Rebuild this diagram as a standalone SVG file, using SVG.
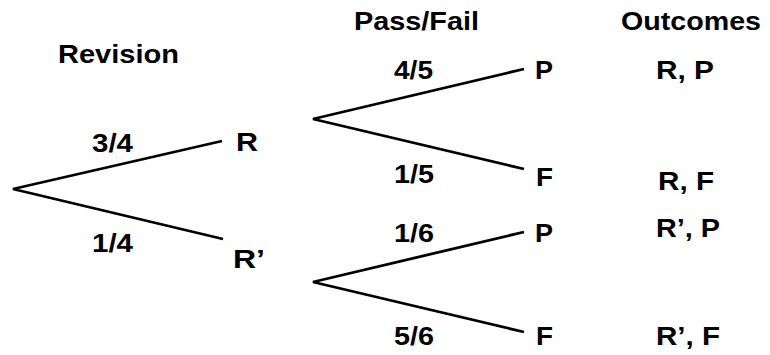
<svg xmlns="http://www.w3.org/2000/svg" width="770" height="355" viewBox="0 0 770 355">
  <style>
    text { font-family: "Liberation Sans", Arial, Helvetica, sans-serif; font-weight: bold; font-size: 25px; fill: #000; }
    .edge { stroke: #000; stroke-width: 2.8; fill: none; stroke-linecap: butt; stroke-linejoin: miter; }
  </style>
  <rect width="770" height="355" fill="#ffffff"/>
  <g id="headers">
    <text x="58" y="63" textLength="121" lengthAdjust="spacingAndGlyphs">Revision</text>
    <text x="354" y="30" textLength="125" lengthAdjust="spacingAndGlyphs">Pass/Fail</text>
    <text x="621" y="30" textLength="140" lengthAdjust="spacingAndGlyphs">Outcomes</text>
  </g>
  <g id="connectors">
    <polyline class="edge" points="222,141 13,189 223,239"/>
    <polyline class="edge" points="524,69 313,119 524,169"/>
    <polyline class="edge" points="524,232 313,282 524,332"/>
    <g id="edge-labels">
      <text x="92" y="152" textLength="41" lengthAdjust="spacingAndGlyphs">3/4</text>
      <text x="92" y="252" textLength="41" lengthAdjust="spacingAndGlyphs">1/4</text>
      <text x="394" y="79" textLength="39" lengthAdjust="spacingAndGlyphs">4/5</text>
      <text x="394" y="183" textLength="40" lengthAdjust="spacingAndGlyphs">1/5</text>
      <text x="394" y="242" textLength="40" lengthAdjust="spacingAndGlyphs">1/6</text>
      <text x="394" y="345" textLength="40" lengthAdjust="spacingAndGlyphs">5/6</text>
    </g>
  </g>
  <g id="node-R"><text x="236" y="151" textLength="22" lengthAdjust="spacingAndGlyphs">R</text></g>
  <g id="node-Rprime"><text x="233" y="268" textLength="32" lengthAdjust="spacingAndGlyphs">R’</text></g>
  <g id="node-P1"><text x="535" y="79" textLength="18" lengthAdjust="spacingAndGlyphs">P</text></g>
  <g id="node-F1"><text x="536" y="186" textLength="17" lengthAdjust="spacingAndGlyphs">F</text></g>
  <g id="node-P2"><text x="535" y="242" textLength="18" lengthAdjust="spacingAndGlyphs">P</text></g>
  <g id="node-F2"><text x="536" y="345" textLength="17" lengthAdjust="spacingAndGlyphs">F</text></g>
  <g id="outcome-RP"><text x="656" y="79" textLength="58" lengthAdjust="spacingAndGlyphs">R, P</text></g>
  <g id="outcome-RF"><text x="658" y="190" textLength="56" lengthAdjust="spacingAndGlyphs">R, F</text></g>
  <g id="outcome-RpP"><text x="656" y="237" textLength="64" lengthAdjust="spacingAndGlyphs">R’, P</text></g>
  <g id="outcome-RpF"><text x="656" y="345" textLength="64" lengthAdjust="spacingAndGlyphs">R’, F</text></g>
</svg>
